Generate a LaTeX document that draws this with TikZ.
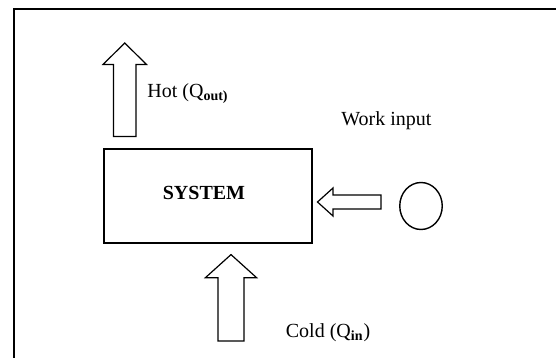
\documentclass[tikz,border=0pt]{standalone}
\usepackage{fontspec}
\setmainfont{Liberation Serif}
\usetikzlibrary{positioning}
\usetikzlibrary{shapes.geometric}

\begin{document}
\begin{tikzpicture}[x=0.5pt, y=-0.5pt, every node/.style={font=\normalsize},
  fat/.style={draw, line width=0.6pt, line join=miter}]
  \useasboundingbox (0,0) rectangle (556,358);
  % Frame (top and left edge only)
  \draw[line width=1pt] (556,9.5) -- (13.5,9.5) -- (13.5,358);

  % System box and work source
  \node (system) [draw, line width=0.8pt, minimum width=104.25pt, minimum height=46.75pt] at (208,196) {};
  \node (systxt) [inner sep=0pt] at (204,193) {\textbf{SYSTEM}};
  \node (source) [draw, ellipse, line width=0.7pt, minimum width=21.25pt, minimum height=23.5pt, inner sep=0pt] at (421,206) {};

  % Labels
  \node (hotlbl) [anchor=west, inner sep=0pt] at (147,94) {Hot (Q\textsubscript{\textbf{out)}}};
  \node (worklbl) [anchor=west, inner sep=0pt] at (341,120.5) {Work input};
  \node (coldlbl) [anchor=west, inner sep=0pt] at (285.5,333) {Cold (Q\textsubscript{\textbf{in}})};

  % Block arrows
  \coordinate (hotbase) at (124.75,136.5);
  \coordinate (coldbase) at (231,341);
  \coordinate (workbase) at (381,202);

  \draw[fat] (hotbase) ++(-11.25,0) -- ++(0,-72) -- ++(-10.5,0) -- ++(21.75,-21.5)
    -- ++(21.75,21.5) -- ++(-10.5,0) -- ++(0,72) -- cycle;
  \draw[fat] (coldbase) ++(-13,0) -- ++(0,-63.3) -- ++(-12.6,0) -- ++(25.6,-23.1)
    -- ++(25.6,23.1) -- ++(-12.6,0) -- ++(0,63.3) -- cycle;
  \draw[fat] (workbase) ++(0,-7) -- ++(-48,0) -- ++(0,-7) -- ++(-15.5,14)
    -- ++(15.5,14) -- ++(0,-7) -- ++(48,0) -- cycle;
\end{tikzpicture}
\end{document}
